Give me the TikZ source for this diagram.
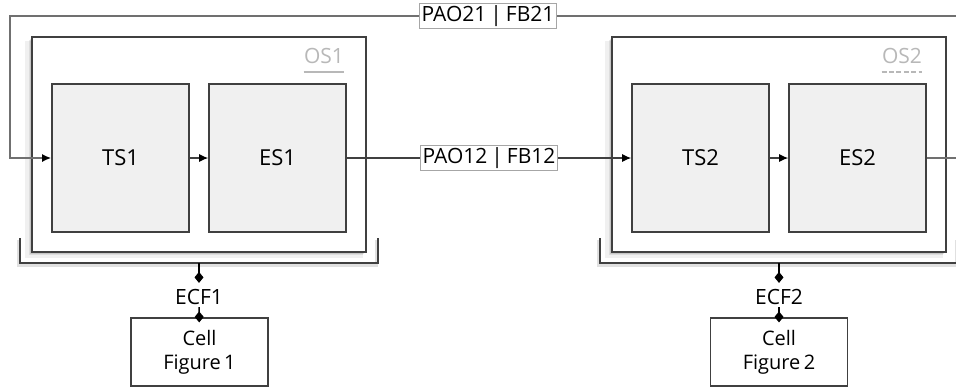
\documentclass[tikz,border=0pt]{standalone}
\usepackage{fontspec}
\setmainfont{Open Sans}
\usepackage{tikz}
\usetikzlibrary{arrows.meta,shadows,calc}

\definecolor{boxline}{HTML}{404040}
\definecolor{subfill}{HTML}{F0F0F0}
\definecolor{loopgray}{HTML}{707070}
\definecolor{osgray}{HTML}{B8B8B8}

\tikzset{
  osbox/.style={draw=boxline, line width=0.8pt, fill=white,
    minimum width=167pt, minimum height=107.5pt,
    general shadow={fill=black, opacity=0.06, shadow xshift=-2.5pt, shadow yshift=-2.5pt, shadow scale=1.01},
    general shadow={fill=black, opacity=0.08, shadow xshift=-1.5pt, shadow yshift=-1.5pt},
    general shadow={fill=black, opacity=0.10, shadow xshift=-0.8pt, shadow yshift=-0.8pt}},
  subbox/.style={draw=boxline, line width=0.8pt, fill=subfill,
    minimum width=68.5pt, minimum height=74pt, font=\fontsize{11}{13}\selectfont},
  cellbox/.style={draw=boxline, line width=0.6pt, fill=white, align=center,
    minimum width=68.5pt, minimum height=34pt, font=\fontsize{10}{12}\selectfont},
  oslabel/.style={text=osgray, inner sep=0pt, font=\fontsize{10.5}{12}\selectfont},
  ecflabel/.style={inner sep=1pt, font=\fontsize{10.5}{12}\selectfont},
  msglabel/.style={fill=white, draw=black!35, line width=0.4pt, inner sep=1pt,
    font=\fontsize{10.5}{12}\selectfont},
  arr/.style={draw=boxline, line width=0.6pt, -{Latex[length=4.5pt,width=4pt,color=black]}},
  looparr/.style={draw=loopgray, line width=0.8pt, -{Latex[length=4.5pt,width=4pt,color=black]}},
  dmd/.style={draw=black, line width=0.8pt, -{Diamond[length=5.5pt,width=4.5pt]}},
  brace/.style={draw=boxline, line width=0.7pt,
    preaction={draw=black!12, line width=1.5pt, transform canvas={xshift=-0.6pt,yshift=-1pt}}}
}

\begin{document}
\begin{tikzpicture}[x=0.5pt,y=-0.5pt]
\useasboundingbox (0,0) rectangle (956,387);

% outer systems
\node[osbox] (os1) at (199,144.5) {};
\node[osbox] (os2) at (779,144.5) {};
\node[oslabel] (os1lbl) at (324,56) {OS1};
\node[oslabel] (os2lbl) at (902,56) {OS2};
\draw[osgray, line width=1.2pt] ($(os1lbl.south west)+(0,8)$) -- ($(os1lbl.south east)+(0,8)$);
\draw[osgray, line width=1.2pt, dash pattern=on 2.5pt off 1.2pt] ($(os2lbl.south west)+(0,8)$) -- ($(os2lbl.south east)+(0,8)$);

% sub systems
\node[subbox] (ts1) at (120.5,158) {TS1};
\node[subbox] (es1) at (277.5,158) {ES1};
\node[subbox] (ts2) at (700.5,158) {TS2};
\node[subbox] (es2) at (857.5,158) {ES2};

\draw[arr] (ts1) -- (es1);
\draw[arr] (ts2) -- (es2);
\draw[arr] (es1) -- node[msglabel] (pao12) {PAO12\hspace{2pt}|\hspace{2pt}FB12} (ts2);

% feedback loop
\coordinate (loopR) at (966,16);
\coordinate (loopL) at (10,16);
\draw[looparr] (es2.east) -| (loopR) -- node[msglabel, pos=0.5] (pao21) {PAO21\hspace{2pt}|\hspace{2pt}FB21} (loopL) |- (ts1.west);

% brackets and cell figures
\draw[brace] (20,238) -- (20,263) -- (378,263) -- (378,238);
\draw[brace] (600,238) -- (600,263) -- (958,263) -- (958,238);
\coordinate (brk1) at (199,263);
\coordinate (brk2) at (779,263);

\node[ecflabel] (ecf1) at (199,297) {ECF1};
\node[ecflabel] (ecf2) at (779,297) {ECF2};
\node[cellbox] (cell1) at (199.5,352) {Cell\\Figure\,1};
\node[cellbox] (cell2) at (779,352) {Cell\\Figure\,2};

\draw[dmd, shorten >=2pt] (brk1) -- (ecf1);
\draw[dmd, shorten >=2pt] (brk2) -- (ecf2);
\draw[dmd, shorten >=-2.5pt] (ecf1) -- (cell1);
\draw[dmd, shorten >=-2.5pt] (ecf2) -- (cell2);
\end{tikzpicture}
\end{document}
